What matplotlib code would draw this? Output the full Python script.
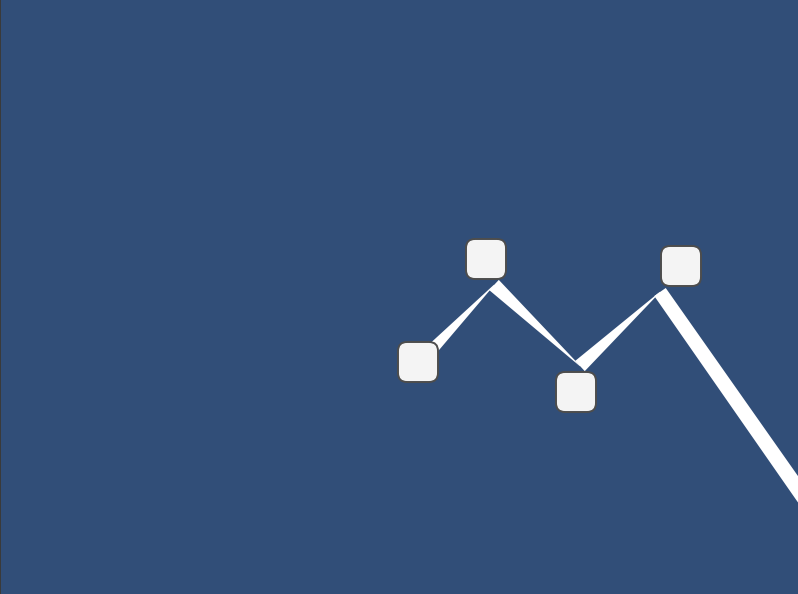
import matplotlib
matplotlib.use('Agg')
import matplotlib.pyplot as plt
from matplotlib.patches import FancyBboxPatch
import numpy as np

# line path (pixel-like coordinates, y grows downward)
line_x = [418, 494, 580, 660, 900]
line_y = [364, 285, 366, 292, 635]
# width of each wedge at its start and its end
width_start = [14, 14, 14, 14]
width_end = [0.5, 0.5, 0.5, 16]

# rounded square markers
marker_x = [418, 486, 576, 681]
marker_y = [362, 259, 392, 266]
marker_size = 40

bg = '#314e78'

fig = plt.figure(figsize=(7.98, 5.94), dpi=100)
fig.patch.set_facecolor(bg)
ax = fig.add_axes([0, 0, 1, 1])
ax.set_facecolor(bg)
ax.set_xlim(0, 798)
ax.set_ylim(594, 0)
ax.axis('off')

# thin dark strip on the left edge
ax.axvspan(0, 1.0, color='#3a3a3a', lw=0, zorder=1)

# tapered segments
for i in range(len(line_x) - 1):
    p0 = np.array([line_x[i], line_y[i]], dtype=float)
    p1 = np.array([line_x[i + 1], line_y[i + 1]], dtype=float)
    d = p1 - p0
    n = np.array([-d[1], d[0]]) / np.hypot(*d)
    w0 = width_start[i] / 2
    w1 = width_end[i] / 2
    poly = np.array([p0 + n * w0, p1 + n * w1, p1 - n * w1, p0 - n * w0])
    ax.fill(poly[:, 0], poly[:, 1], color='white', lw=0, zorder=2)

# markers
for mx, my in zip(marker_x, marker_y):
    inner = marker_size - 18
    box = FancyBboxPatch((mx - inner / 2, my - inner / 2), inner, inner,
                         boxstyle='round,pad=9,rounding_size=9',
                         facecolor='#f4f4f4', edgecolor='#4d4d4d',
                         lw=1.4, zorder=3)
    ax.add_patch(box)

fig.savefig('out.png', dpi=100, facecolor=bg)
